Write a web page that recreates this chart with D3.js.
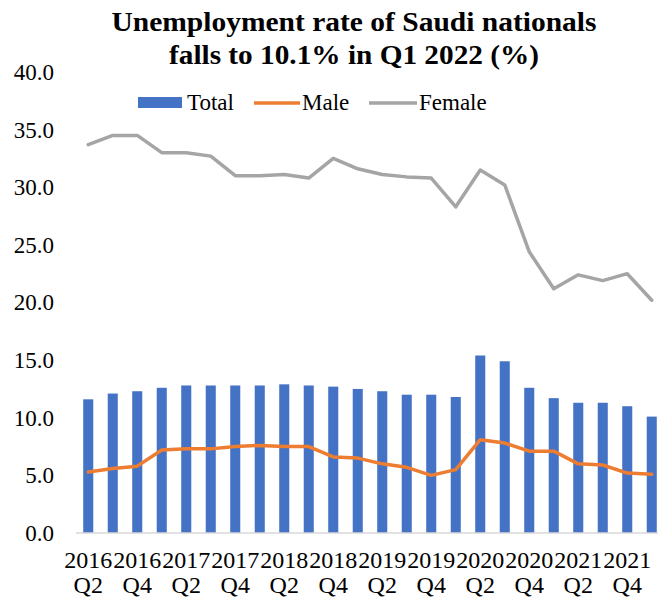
<!DOCTYPE html>
<html>
<head>
<meta charset="utf-8">
<script src="https://cdn.jsdelivr.net/npm/d3@7"></script>
<style>
  body { margin: 0; background: #fff; }
  svg { display: block; font-family: 'Liberation Serif', 'Times New Roman', serif; }
</style>
</head>
<body>
<div id="chart"></div>
<script>
const quarters = [
  '2016 Q2', '2016 Q3', '2016 Q4',
  '2017 Q1', '2017 Q2', '2017 Q3', '2017 Q4',
  '2018 Q1', '2018 Q2', '2018 Q3', '2018 Q4',
  '2019 Q1', '2019 Q2', '2019 Q3', '2019 Q4',
  '2020 Q1', '2020 Q2', '2020 Q3', '2020 Q4',
  '2021 Q1', '2021 Q2', '2021 Q3', '2021 Q4',
  '2022 Q1'
];
const total = [11.6, 12.1, 12.3, 12.6, 12.8, 12.8, 12.8, 12.8, 12.9, 12.8, 12.7, 12.5,
               12.3, 12.0, 12.0, 11.8, 15.4, 14.9, 12.6, 11.7, 11.3, 11.3, 11.0, 10.1];
const male = [5.3, 5.6, 5.8, 7.2, 7.3, 7.3, 7.5, 7.6, 7.5, 7.5, 6.6, 6.5,
              6.0, 5.7, 5.0, 5.5, 8.1, 7.8, 7.1, 7.1, 6.0, 5.9, 5.2, 5.1];
const female = [33.7, 34.5, 34.5, 33.0, 33.0, 32.7, 31.0, 31.0, 31.1, 30.8, 32.5, 31.6,
                31.1, 30.9, 30.8, 28.3, 31.5, 30.2, 24.4, 21.2, 22.4, 21.9, 22.5, 20.2];
const yTicks = [0, 5, 10, 15, 20, 25, 30, 35, 40];
const xTickLabels = ['2016 Q2', '2016 Q4', '2017 Q2', '2017 Q4', '2018 Q2', '2018 Q4',
                     '2019 Q2', '2019 Q4', '2020 Q2', '2020 Q4', '2021 Q2', '2021 Q4'];
const titleLines = ['Unemployment rate of Saudi nationals', 'falls to 10.1% in Q1 2022 (%)'];
const titleWidths = [485, 370];

const width = 658, height = 603;

const svg = d3.select('#chart').append('svg')
  .attr('width', width).attr('height', height);

const x = d3.scaleBand()
  .domain(quarters)
  .range([76, 664])
  .paddingInner(0.59)
  .paddingOuter(0.295);

const y = d3.scaleLinear().domain([0, 40]).range([533, 72]);
const cx = q => x(q) + x.bandwidth() / 2;

// title, stretched a bit wider like the original
svg.append('g').selectAll('text')
  .data(titleLines)
  .enter().append('text')
    .attr('x', (d, i) => 354 - titleWidths[i] / 2)
    .attr('y', (d, i) => 31 + i * 33)
    .attr('textLength', (d, i) => titleWidths[i])
    .attr('lengthAdjust', 'spacingAndGlyphs')
    .attr('font-size', 27)
    .attr('font-weight', 'bold')
    .attr('fill', '#000')
    .text(d => d);

// y axis (labels only)
const yAxis = svg.append('g')
  .attr('transform', 'translate(54,0)')
  .call(d3.axisLeft(y).tickValues(yTicks).tickSize(0).tickPadding(0).tickFormat(d3.format('.1f')));
yAxis.select('.domain').remove();
yAxis.selectAll('text')
  .attr('font-family', 'Liberation Serif, Times New Roman, serif')
  .attr('font-size', 23)
  .attr('fill', '#000');

// bars
svg.append('g').selectAll('rect')
  .data(quarters)
  .enter().append('rect')
    .attr('x', d => x(d))
    .attr('width', x.bandwidth())
    .attr('y', (d, i) => y(total[i]))
    .attr('height', (d, i) => y(0) - y(total[i]))
    .attr('fill', '#4472C4');

// x baseline
svg.append('line')
  .attr('x1', 76).attr('x2', 664)
  .attr('y1', y(0)).attr('y2', y(0))
  .attr('stroke', '#d9d9d9').attr('stroke-width', 1.5);

// lines
const line = d3.line()
  .x(d => cx(d.q))
  .y(d => y(d.v));

const series = [
  { name: 'Male', values: male, color: '#ED7D31' },
  { name: 'Female', values: female, color: '#A5A5A5' }
];

svg.append('g').selectAll('path')
  .data(series)
  .enter().append('path')
    .attr('d', s => line(quarters.map((q, i) => ({ q, v: s.values[i] }))))
    .attr('fill', 'none')
    .attr('stroke', s => s.color)
    .attr('stroke-width', 3.5)
    .attr('stroke-linejoin', 'round')
    .attr('stroke-linecap', 'round');

// x labels
const xl = svg.append('g').selectAll('text')
  .data(xTickLabels)
  .enter().append('text')
    .attr('x', d => cx(d))
    .attr('y', 568)
    .attr('text-anchor', 'middle')
    .attr('font-size', 24)
    .attr('fill', '#000');
xl.append('tspan').attr('x', d => cx(d)).text(d => d.split(' ')[0]);
xl.append('tspan').attr('x', d => cx(d)).attr('dy', 25).text(d => d.split(' ')[1]);

// legend
const legend = svg.append('g').attr('font-size', 23).attr('fill', '#000');
legend.append('rect').attr('x', 138).attr('y', 97).attr('width', 44).attr('height', 11).attr('fill', '#4472C4');
legend.append('text').attr('x', 187).attr('y', 110).text('Total');
legend.append('line').attr('x1', 254).attr('x2', 300).attr('y1', 103).attr('y2', 103)
  .attr('stroke', '#ED7D31').attr('stroke-width', 3.5);
legend.append('text').attr('x', 302).attr('y', 110).text('Male');
legend.append('line').attr('x1', 369).attr('x2', 417).attr('y1', 103).attr('y2', 103)
  .attr('stroke', '#A5A5A5').attr('stroke-width', 3.5);
legend.append('text').attr('x', 419).attr('y', 110).text('Female');
</script>
</body>
</html>
